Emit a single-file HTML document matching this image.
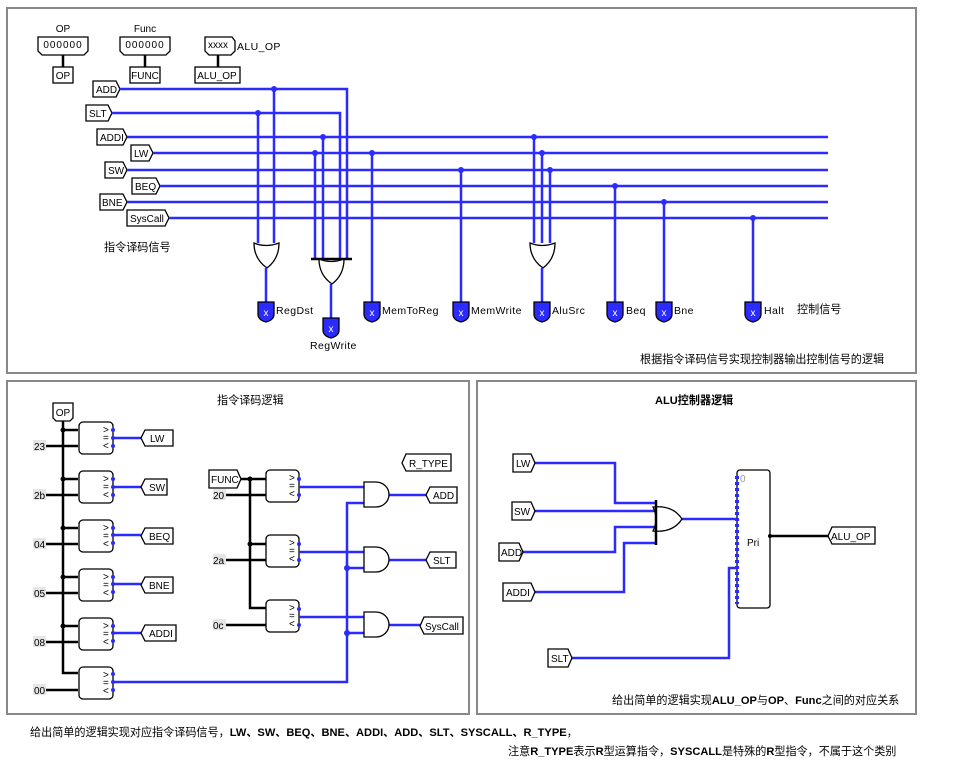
<!DOCTYPE html>
<html><head><meta charset="utf-8"><style>
body{margin:0;background:#fff}
svg{display:block}
text{font-family:"Liberation Sans","Noto Sans CJK SC",sans-serif;font-size:10px;fill:#000}
.p{font-size:10.5px;letter-spacing:0.4px}
.b{stroke:#2b2bff;stroke-width:2.5;fill:none}
.k{stroke:#000;stroke-width:2.5;fill:none}
.g{stroke:#000;stroke-width:1.3;fill:#fff}
.dot{fill:#2b2bff}
.kd{fill:#000}
.pin{fill:#2b2bff;stroke:#000;stroke-width:1.3}
.cn{font-size:11.1px}
</style></head><body>
<svg width="976" height="768" viewBox="0 0 976 768" xmlns="http://www.w3.org/2000/svg">
<rect width="976" height="768" fill="#fff"/>
<rect x="7" y="8" width="909" height="365" fill="none" stroke="#888" stroke-width="2"/>
<rect x="7" y="381" width="462" height="333" fill="none" stroke="#888" stroke-width="2"/>
<rect x="477" y="381" width="439" height="333" fill="none" stroke="#888" stroke-width="2"/>

<text x="63" y="32" text-anchor="middle">OP</text>
<path class="g" d="M38,37h50v14l-4,4h-42l-4,-4z"/>
<text x="63" y="48" text-anchor="middle" font-size="9" letter-spacing="1">000000</text>
<path class="k" d="M63,55v12" stroke-width="2"/>
<rect class="g" x="53" y="67" width="20" height="16"/><text x="63" y="79" text-anchor="middle">OP</text>
<text x="145" y="32" text-anchor="middle">Func</text>
<path class="g" d="M120,37h50v14l-4,4h-42l-4,-4z"/>
<text x="145" y="48" text-anchor="middle" font-size="9" letter-spacing="1">000000</text>
<path class="k" d="M145,55v12" stroke-width="2"/>
<rect class="g" x="130" y="67" width="30" height="16"/><text x="145" y="79" text-anchor="middle">FUNC</text>
<path class="g" d="M205,37h27l3,4v10l-4,4h-22l-4,-4v-10z"/>
<text x="218" y="48" text-anchor="middle" font-size="9">xxxx</text>
<text x="237" y="50" class="p">ALU_OP</text>
<path class="k" d="M218,55v12" stroke-width="2"/>
<rect class="g" x="195" y="67" width="45" height="16"/><text x="217" y="79" text-anchor="middle">ALU_OP</text>

<g>
<path class="g" d="M93,81h23l4,8l-4,8h-23z"/><text x="96" y="93">ADD</text>
<path class="g" d="M86,105h22l4,8l-4,8h-22z"/><text x="89" y="117">SLT</text>
<path class="g" d="M97,129h26l4,8l-4,8h-26z"/><text x="100" y="141">ADDI</text>
<path class="g" d="M131,145h18l4,8l-4,8h-18z"/><text x="134" y="157">LW</text>
<path class="g" d="M105,162h18l4,8l-4,8h-18z"/><text x="108" y="174">SW</text>
<path class="g" d="M132,178h24l4,8l-4,8h-24z"/><text x="135" y="190">BEQ</text>
<path class="g" d="M100,194h23l4,8l-4,8h-23z"/><text x="102" y="206">BNE</text>
<path class="g" d="M127,210h38l4,8l-4,8h-38z"/><text x="130" y="222">SysCall</text>
</g>
<path class="b" d="M120,89H347V258M112,113H340V258M127,137H828M153,153H828M127,170H828M160,186H828M127,202H828M169,218H828"/>
<path class="b" d="M258,113V243M274,89V243M315,153V258M323,137V258M372,153V302M461,170V302M534,137V243M542,153V243M550,170V243M615,186V302M664,202V302M753,218V302"/>
<g class="dot">
<circle cx="274" cy="89" r="3"/><circle cx="258" cy="113" r="3"/><circle cx="323" cy="137" r="3"/><circle cx="315" cy="153" r="3"/><circle cx="372" cy="153" r="3"/><circle cx="534" cy="137" r="3"/><circle cx="542" cy="153" r="3"/><circle cx="550" cy="170" r="3"/><circle cx="461" cy="170" r="3"/><circle cx="615" cy="186" r="3"/><circle cx="664" cy="202" r="3"/><circle cx="753" cy="218" r="3"/>
</g>
<path class="g" d="M254,243q12,5 25,0q0,16 -12,25q-13,-9 -13,-25z"/>
<path class="b" d="M266,268V302"/>
<path class="k" d="M311,259h41" stroke-width="1"/>
<path class="g" d="M319,259q12,5 25,0q0,16 -12,25q-13,-9 -13,-25z"/>
<path class="b" d="M331,284V318"/>
<path class="g" d="M530,243q12,5 25,0q0,16 -12,25q-13,-9 -13,-25z"/>
<path class="b" d="M542,268V302"/>
<g>
<path class="pin" d="M258,302h16v12q0,6 -8,8q-8,-2 -8,-8z"/><text x="266" y="316" text-anchor="middle" style="fill:#fff" font-size="8">x</text><text x="276" y="314" class="p">RegDst</text>
<path class="pin" d="M323,318h16v12q0,6 -8,8q-8,-2 -8,-8z"/><text x="331" y="332" text-anchor="middle" style="fill:#fff" font-size="8">x</text><text x="310" y="349" class="p">RegWrite</text>
<path class="pin" d="M364,302h16v12q0,6 -8,8q-8,-2 -8,-8z"/><text x="372" y="316" text-anchor="middle" style="fill:#fff" font-size="8">x</text><text x="382" y="314" class="p">MemToReg</text>
<path class="pin" d="M453,302h16v12q0,6 -8,8q-8,-2 -8,-8z"/><text x="461" y="316" text-anchor="middle" style="fill:#fff" font-size="8">x</text><text x="471" y="314" class="p">MemWrite</text>
<path class="pin" d="M534,302h16v12q0,6 -8,8q-8,-2 -8,-8z"/><text x="542" y="316" text-anchor="middle" style="fill:#fff" font-size="8">x</text><text x="552" y="314" class="p">AluSrc</text>
<path class="pin" d="M607,302h16v12q0,6 -8,8q-8,-2 -8,-8z"/><text x="615" y="316" text-anchor="middle" style="fill:#fff" font-size="8">x</text><text x="626" y="314" class="p">Beq</text>
<path class="pin" d="M656,302h16v12q0,6 -8,8q-8,-2 -8,-8z"/><text x="664" y="316" text-anchor="middle" style="fill:#fff" font-size="8">x</text><text x="674" y="314" class="p">Bne</text>
<path class="pin" d="M745,302h16v12q0,6 -8,8q-8,-2 -8,-8z"/><text x="753" y="316" text-anchor="middle" style="fill:#fff" font-size="8">x</text><text x="764" y="314" class="p">Halt</text>
</g>
<text x="797" y="313" class="cn">控制信号</text>
<text x="104" y="251" class="cn">指令译码信号</text>
<text x="640" y="363" class="cn">根据指令译码信号实现控制器输出控制信号的逻辑</text>

<text x="217" y="404" class="cn">指令译码逻辑</text>
<path class="g" d="M53,403h20v15l-3,3h-14l-3,-3z"/><text x="63" y="416" text-anchor="middle">OP</text>
<path class="k" d="M63,421V673H78"/>
<g class="k">
<path d="M63,430H78M63,479H78M63,528H78M63,577H78M63,626H78"/>
<path d="M34,446H78M34,495H78M34,544H78M34,593H78M34,642H78M34,690H78"/>
</g>
<g>
<rect x="33" y="440" width="13" height="11" fill="#e6e6e6"/><text x="34" y="450">23</text>
<rect x="33" y="489" width="13" height="11" fill="#e6e6e6"/><text x="34" y="499">2b</text>
<rect x="33" y="538" width="13" height="11" fill="#e6e6e6"/><text x="34" y="548">04</text>
<rect x="33" y="587" width="13" height="11" fill="#e6e6e6"/><text x="34" y="597">05</text>
<rect x="33" y="636" width="13" height="11" fill="#e6e6e6"/><text x="34" y="646">08</text>
<rect x="33" y="684" width="13" height="11" fill="#e6e6e6"/><text x="34" y="694">00</text>
</g>
<g class="kd"><circle cx="63" cy="430" r="2.5"/><circle cx="63" cy="479" r="2.5"/><circle cx="63" cy="528" r="2.5"/><circle cx="63" cy="577" r="2.5"/><circle cx="63" cy="626" r="2.5"/></g>
<g>
<rect class="g" x="79" y="422" width="34" height="32" rx="4"/>
<rect class="g" x="79" y="471" width="34" height="32" rx="4"/>
<rect class="g" x="79" y="520" width="34" height="32" rx="4"/>
<rect class="g" x="79" y="569" width="34" height="32" rx="4"/>
<rect class="g" x="79" y="618" width="34" height="32" rx="4"/>
<rect class="g" x="79" y="667" width="34" height="32" rx="4"/>
<rect class="g" x="266" y="470" width="33" height="32" rx="4"/>
<rect class="g" x="266" y="535" width="33" height="32" rx="4"/>
<rect class="g" x="266" y="600" width="33" height="32" rx="4"/>
</g>
<g>
<text x="103" y="433" font-size="8">&gt;</text><text x="103" y="441" font-size="8">=</text><text x="103" y="449" font-size="8">&lt;</text>
<text x="103" y="482" font-size="8">&gt;</text><text x="103" y="490" font-size="8">=</text><text x="103" y="498" font-size="8">&lt;</text>
<text x="103" y="531" font-size="8">&gt;</text><text x="103" y="539" font-size="8">=</text><text x="103" y="547" font-size="8">&lt;</text>
<text x="103" y="580" font-size="8">&gt;</text><text x="103" y="588" font-size="8">=</text><text x="103" y="596" font-size="8">&lt;</text>
<text x="103" y="629" font-size="8">&gt;</text><text x="103" y="637" font-size="8">=</text><text x="103" y="645" font-size="8">&lt;</text>
<text x="103" y="678" font-size="8">&gt;</text><text x="103" y="686" font-size="8">=</text><text x="103" y="694" font-size="8">&lt;</text>
<text x="289" y="481" font-size="8">&gt;</text><text x="289" y="489" font-size="8">=</text><text x="289" y="497" font-size="8">&lt;</text>
<text x="289" y="546" font-size="8">&gt;</text><text x="289" y="554" font-size="8">=</text><text x="289" y="562" font-size="8">&lt;</text>
<text x="289" y="611" font-size="8">&gt;</text><text x="289" y="619" font-size="8">=</text><text x="289" y="627" font-size="8">&lt;</text>
</g>
<path class="b" d="M113,438H145M113,487H145M113,535H145M113,584H145M113,633H145M113,682H347V503H364M347,568H364M347,633H364"/>
<path class="b" d="M299,487H364M299,552H364M299,617H364M389,495H430M389,560H430M389,625H422"/>
<g class="dot">
<circle cx="113" cy="430" r="2"/><circle cx="113" cy="438" r="2"/><circle cx="113" cy="446" r="2"/>
<circle cx="113" cy="479" r="2"/><circle cx="113" cy="487" r="2"/><circle cx="113" cy="495" r="2"/>
<circle cx="113" cy="528" r="2"/><circle cx="113" cy="535" r="2"/><circle cx="113" cy="543" r="2"/>
<circle cx="113" cy="577" r="2"/><circle cx="113" cy="584" r="2"/><circle cx="113" cy="592" r="2"/>
<circle cx="113" cy="626" r="2"/><circle cx="113" cy="633" r="2"/><circle cx="113" cy="641" r="2"/>
<circle cx="113" cy="674" r="2"/><circle cx="113" cy="682" r="2"/><circle cx="113" cy="690" r="2"/>
<circle cx="299" cy="479" r="2"/><circle cx="299" cy="495" r="2"/><circle cx="299" cy="544" r="2"/><circle cx="299" cy="560" r="2"/><circle cx="299" cy="609" r="2"/><circle cx="299" cy="625" r="2"/>
<circle cx="347" cy="568" r="3"/><circle cx="347" cy="633" r="3"/>
</g>
<g>
<path class="g" d="M145,430h28v16h-28l-4,-8z"/><text x="150" y="442">LW</text>
<path class="g" d="M145,479h22v16h-22l-4,-8z"/><text x="149" y="491">SW</text>
<path class="g" d="M145,528h28v16h-28l-4,-8z"/><text x="149" y="540">BEQ</text>
<path class="g" d="M145,577h28v16h-28l-4,-8z"/><text x="149" y="589">BNE</text>
<path class="g" d="M145,625h31v16h-31l-4,-8z"/><text x="149" y="637">ADDI</text>
<path class="g" d="M406,454h45v17h-45l-4,-8z"/><text x="409" y="467">R_TYPE</text>
<path class="g" d="M430,487h27v16h-27l-4,-8z"/><text x="433" y="499">ADD</text>
<path class="g" d="M430,552h26v16h-26l-4,-8z"/><text x="433" y="564">SLT</text>
<path class="g" d="M424,617h39v17h-39l-4,-8z"/><text x="425" y="630">SysCall</text>
</g>
<path class="g" d="M209,470h28l4,9l-4,9h-28z"/><text x="211" y="483">FUNC</text>
<path class="k" d="M241,479H266M250,479V608H266M225,495H266M225,560H266M225,625H266M250,544H266"/>
<g class="kd"><circle cx="250" cy="479" r="2.5"/><circle cx="250" cy="544" r="2.5"/></g>
<rect x="213" y="489" width="13" height="11" fill="#e6e6e6"/><text x="213" y="499">20</text>
<rect x="213" y="554" width="13" height="11" fill="#e6e6e6"/><text x="213" y="564">2a</text>
<rect x="213" y="619" width="13" height="11" fill="#e6e6e6"/><text x="213" y="629">0c</text>
<path class="g" d="M364,482h12a13,12.5 0 0 1 0,25h-12z"/>
<path class="g" d="M364,547h12a13,12.5 0 0 1 0,25h-12z"/>
<path class="g" d="M364,612h12a13,12.5 0 0 1 0,25h-12z"/>

<text x="655" y="404" class="cn" font-weight="bold">ALU控制器逻辑</text>
<path class="b" d="M535,463H615V503H656M535,511H656M523,552H615V527H656M535,592H624V543H656M682,519H737M572,658H729V568H737"/>
<path class="g" d="M653,507q20,-2 29,12q-9,14 -29,12q6,-12 0,-24z"/>
<path class="k" d="M656,500V545" stroke-width="1"/>
<rect class="g" x="737" y="470" width="33" height="138" rx="3"/>
<path d="M737,476V604" stroke="#2b2bff" stroke-width="4" stroke-dasharray="3,3"/>
<text x="740" y="482" font-size="8" style="fill:#999">0</text>
<text x="747" y="546">Pri</text>
<path class="k" d="M770,536H829"/>
<circle class="kd" cx="770" cy="536" r="2"/>
<g>
<path class="g" d="M513,454h18l4,9l-4,9h-18z"/><text x="516" y="467">LW</text>
<path class="g" d="M512,502h19l4,9l-4,9h-19z"/><text x="514" y="515">SW</text>
<path class="g" d="M499,543h20l4,9l-4,9h-20z"/><text x="501" y="556">ADD</text>
<path class="g" d="M503,583h28l4,9l-4,9h-28z"/><text x="506" y="596">ADDI</text>
<path class="g" d="M548,649h20l4,9l-4,9h-20z"/><text x="551" y="662">SLT</text>
<path class="g" d="M832,527h43v17h-43l-4,-8z"/><text x="831" y="540">ALU_OP</text>
</g>
<text x="612" y="704" class="cn">给出简单的逻辑实现<tspan font-weight="bold">ALU_OP</tspan>与<tspan font-weight="bold">OP</tspan>、<tspan font-weight="bold">Func</tspan>之间的对应关系</text>

<text x="30" y="736" class="cn">给出简单的逻辑实现对应指令译码信号，<tspan font-weight="bold">LW、SW、BEQ、BNE、ADDI、ADD、SLT、SYSCALL、R_TYPE</tspan>，</text>
<text x="508" y="755" class="cn">注意<tspan font-weight="bold">R_TYPE</tspan>表示<tspan font-weight="bold">R</tspan>型运算指令，<tspan font-weight="bold">SYSCALL</tspan>是特殊的<tspan font-weight="bold">R</tspan>型指令，不属于这个类别</text>
</svg>
</body></html>
